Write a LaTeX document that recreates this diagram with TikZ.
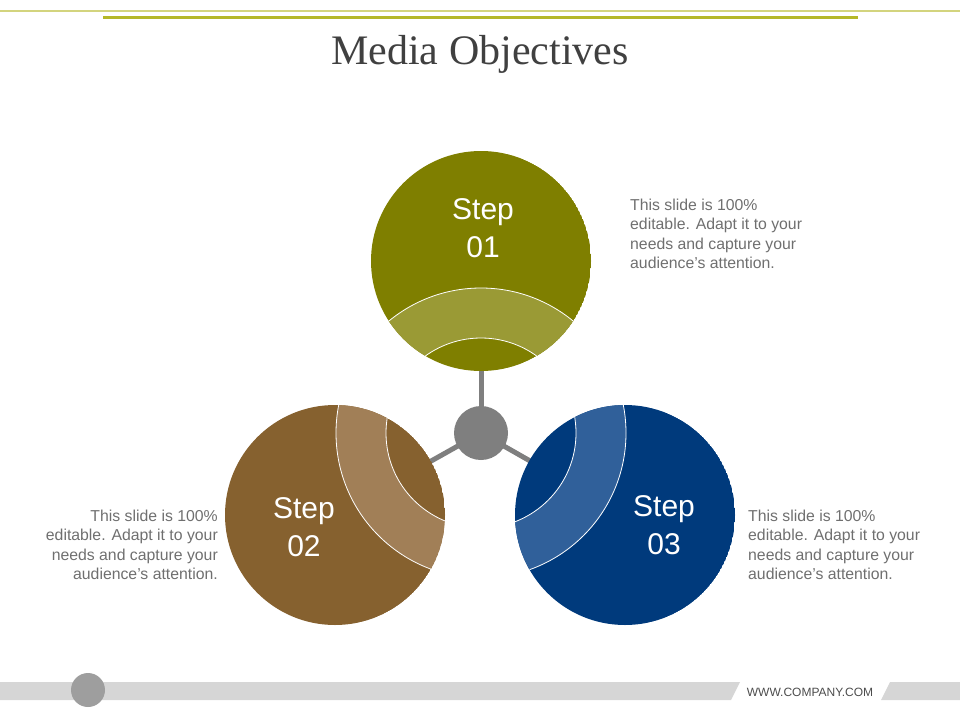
\documentclass[tikz,border=0pt]{standalone}
\usepackage{fontspec}
\setmainfont{Liberation Sans}
\newfontfamily\titlefont{Liberation Serif}
\usetikzlibrary{calc}
\definecolor{olivec}{HTML}{7F7F00}
\definecolor{olivel}{HTML}{9A9A35}
\definecolor{brownc}{HTML}{86612F}
\definecolor{brownl}{HTML}{A17F57}
\definecolor{bluec}{HTML}{003A7C}
\definecolor{bluel}{HTML}{30609A}
\definecolor{hubc}{HTML}{7F7F7F}
\definecolor{textc}{HTML}{6F6F6F}
\definecolor{linec}{HTML}{B5B828}
\newcommand{\stepdisk}[3]{%
  \begin{scope}
    \clip (#1) circle (110);
    \fill[#2] (#1) circle (110);
    \fill[#3,even odd rule] (hub) circle (145) (hub) circle (95);
    \draw[white,line width=0.8] (hub) circle (145) (hub) circle (95);
  \end{scope}}

\begin{document}
\begin{tikzpicture}[x=1pt,y=-1pt,
  note/.style={font=\fontsize{15.8}{19.2}\selectfont,text=textc,inner sep=0},
  steplabel/.style={font=\fontsize{30}{38}\selectfont,text=white,align=center},
  spoke/.style={hubc,line width=5}]
\useasboundingbox (0,0) rectangle (960,720);

% top rules and title
\draw[linec!60,line width=1.5] (0,11) -- (960,11);
\draw[linec,line width=3] (103,17) -- (858,17);
\node[font=\titlefont\fontsize{42}{46}\selectfont,text=black!75] (title) at (480,54) {Media Objectives};

% hub and circles
\coordinate (hub) at (481,433);
\coordinate (c1) at (481,261);
\coordinate (c2) at (335,515);
\coordinate (c3) at (625,515);
\draw[spoke] (hub) -- (c1);
\draw[spoke] (hub) -- (c2);
\draw[spoke] (hub) -- (c3);
\stepdisk{c1}{olivec}{olivel}
\stepdisk{c2}{brownc}{brownl}
\stepdisk{c3}{bluec}{bluel}
\fill[hubc] (hub) circle (27);

\node[steplabel] (s1) at (483,228) {Step\\01};
\node[steplabel] (s2) at (304,527) {Step\\02};
\node[steplabel] (s3) at (664,525) {Step\\03};

% notes
\node[note,align=left,anchor=north west] (n1) at (630,199)
  {This slide is 100\%\\editable. Adapt it to your\\needs and capture your\\audience's attention.};
\node[note,align=right,anchor=north east] (n2) at (218,510)
  {This slide is 100\%\\editable. Adapt it to your\\needs and capture your\\audience's attention.};
\node[note,align=left,anchor=north west] (n3) at (748,510)
  {This slide is 100\%\\editable. Adapt it to your\\needs and capture your\\audience's attention.};

% footer
\fill[black!16] (0,682) -- (740,682) -- (731,700) -- (0,700) -- cycle;
\fill[black!16] (890,682) -- (960,682) -- (960,700) -- (881,700) -- cycle;
\fill[black!38] (88,690) circle (17);
\node[font=\fontsize{12}{13}\selectfont,text=black!70] (web) at (810,692) {WWW.COMPANY.COM};
\end{tikzpicture}
\end{document}
